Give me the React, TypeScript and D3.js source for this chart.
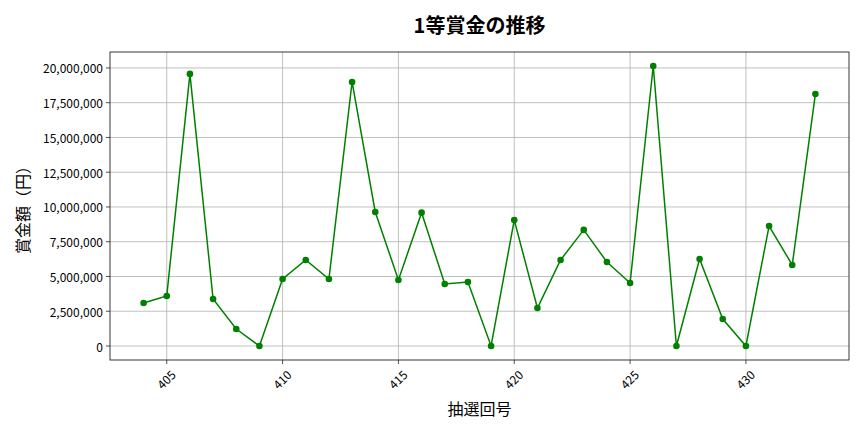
import React from "react";
import * as d3 from "d3";

const draws: number[] = [404,405,406,407,408,409,410,411,412,413,414,415,416,417,418,419,420,421,422,423,424,425,426,427,428,429,430,431,432,433];
const prizes: number[] = [3090000,3600000,19570000,3380000,1220000,0,4820000,6190000,4820000,18990000,9640000,4750000,9590000,4460000,4600000,0,9060000,2730000,6190000,8350000,6040000,4530000,20140000,0,6260000,1940000,0,8630000,5830000,18130000];
const xTicks: number[] = [405,410,415,420,425,430];
const yTicks: number[] = [0,2500000,5000000,7500000,10000000,12500000,15000000,17500000,20000000];

const W = 864, H = 432;
const L = 110, R = 849, T = 52, B = 360;
const FONT = "'Noto Sans CJK JP', 'Noto Sans', sans-serif";

export default function App() {
  const xMin = d3.min(draws)!, xMax = d3.max(draws)!;
  const xPad = (xMax - xMin) * 0.05;
  const yMax = d3.max(prizes)!;
  const yPad = yMax * 0.05;
  const x = d3.scaleLinear().domain([xMin - xPad, xMax + xPad]).range([L, R]);
  const y = d3.scaleLinear().domain([-yPad, yMax + yPad]).range([B, T]);
  const line = d3.line<number>().x((_, i) => x(draws[i])).y((d) => y(d));
  const fmt = d3.format(",");
  return (
    <svg width={W} height={H} style={{ position: "absolute", left: 0, top: 0, background: "#fff" }} fontFamily={FONT}>
      <rect x={0} y={0} width={W} height={H} fill="#fff" />
      {xTicks.map((t) => (
        <line key={"gx" + t} x1={x(t)} x2={x(t)} y1={T} y2={B} stroke="#b0b0b0" strokeWidth={0.8} />
      ))}
      {yTicks.map((t) => (
        <line key={"gy" + t} x1={L} x2={R} y1={y(t)} y2={y(t)} stroke="#b0b0b0" strokeWidth={0.8} />
      ))}
      <path d={line(prizes) || ""} fill="none" stroke="#008000" strokeWidth={1.5} />
      {prizes.map((v, i) => (
        <circle key={i} cx={x(draws[i])} cy={y(v)} r={3.3} fill="#008000" />
      ))}
      <rect x={L} y={T} width={R - L} height={B - T} fill="none" stroke="#222" strokeWidth={0.9} />
      {xTicks.map((t) => (
        <g key={"xt" + t}>
          <line x1={x(t)} x2={x(t)} y1={B} y2={B + 4} stroke="#222" strokeWidth={0.8} />
          <text transform={`translate(${x(t) - 1},${B + 19}) rotate(-45)`} textAnchor="middle" dominantBaseline="central" fontSize={12} fill="#000">{t}</text>
        </g>
      ))}
      {yTicks.map((t) => (
        <g key={"yt" + t}>
          <line x1={L - 4} x2={L} y1={y(t)} y2={y(t)} stroke="#222" strokeWidth={0.8} />
          <text x={L - 7} y={y(t)} textAnchor="end" dominantBaseline="central" fontSize={12} fill="#000">{fmt(t)}</text>
        </g>
      ))}
      <text x={(L + R) / 2} y={24} textAnchor="middle" dominantBaseline="central" fontSize={20} fontWeight="bold" fill="#000">1等賞金の推移</text>
      <text x={(L + R) / 2} y={408} textAnchor="middle" dominantBaseline="central" fontSize={16} fill="#000">抽選回号</text>
      <text transform={`translate(22,${(T + B) / 2}) rotate(-90)`} textAnchor="middle" dominantBaseline="central" fontSize={16} fill="#000">賞金額（円）</text>
    </svg>
  );
}
